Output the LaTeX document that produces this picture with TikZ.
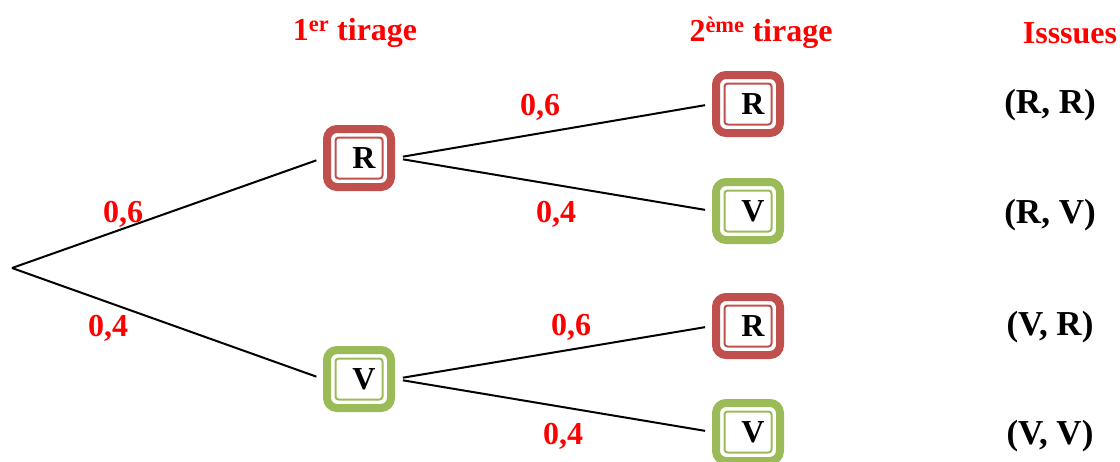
\documentclass[tikz,border=0pt]{standalone}
\usepackage{fontspec}
\setmainfont{Liberation Serif}
\usetikzlibrary{positioning}
\definecolor{boxred}{RGB}{192,80,77}
\definecolor{boxgreen}{RGB}{155,187,89}
\newcommand{\boxletter}[1]{\hspace*{10pt}\raisebox{-2pt}{#1}}
\tikzset{
	box/.style={draw=#1,line width=8pt,rounded corners=10pt,minimum width=64pt,minimum height=58pt,
		font=\fontsize{32}{34}\selectfont\bfseries,
		path picture={\draw[#1,line width=2pt,rounded corners=3pt]
			([shift={(8.5pt,8.5pt)}]path picture bounding box.south west) rectangle
			([shift={(-8.5pt,-8.5pt)}]path picture bounding box.north east);}},
	prob/.style={text=red,font=\fontsize{32}{34}\selectfont\bfseries},
	head/.style={text=red,font=\fontsize{32}{34}\selectfont\bfseries},
	issue/.style={font=\fontsize{35}{37}\selectfont\bfseries},
	branch/.style={line width=2pt,shorten >=7pt},
	subbranch/.style={branch,shorten <=8pt}
}

\begin{document}
\begin{tikzpicture}[x=1pt,y=-1pt]
	\useasboundingbox (0,0) rectangle (1120,461);
	\coordinate (root) at (12,268);
	\node[box=boxred] (r1) at (359,158) {\boxletter{R}};
	\node[box=boxgreen] (v1) at (359,379) {\boxletter{V}};
	\node[box=boxred] (r1r) at (748,104) {\boxletter{R}};
	\node[box=boxgreen] (r1v) at (748,211) {\boxletter{V}};
	\node[box=boxred] (v1r) at (748,326) {\boxletter{R}};
	\node[box=boxgreen] (v1v) at (748,432) {\boxletter{V}};
	\draw[branch] (root) -- (r1.west);
	\draw[branch] (root) -- (v1.west);
	\draw[subbranch] (r1.east) -- (r1r.west);
	\draw[subbranch] (r1.east) -- (r1v.west);
	\draw[subbranch] (v1.east) -- (v1r.west);
	\draw[subbranch] (v1.east) -- (v1v.west);
	% probabilites
	\node[prob] (p1) at (123,214) {0,6};
	\node[prob] (p2) at (108,328) {0,4};
	\node[prob] (p3) at (540,107) {0,6};
	\node[prob] (p4) at (556,214) {0,4};
	\node[prob] (p5) at (571,327) {0,6};
	\node[prob] (p6) at (563,436) {0,4};
	% titres
	\node[head] (t1) at (355,33) {1\textsuperscript{er} tirage};
	\node[head] (t2) at (761,33) {2\textsuperscript{ème} tirage};
	\node[head] (t3) at (1070,33) {Isssues};
	\node[issue] (i1) at (1050,105) {(R, R)};
	\node[issue] (i2) at (1050,215) {(R, V)};
	\node[issue] (i3) at (1050,327) {(V, R)};
	\node[issue] (i4) at (1050,436) {(V, V)};
\end{tikzpicture}
\end{document}
